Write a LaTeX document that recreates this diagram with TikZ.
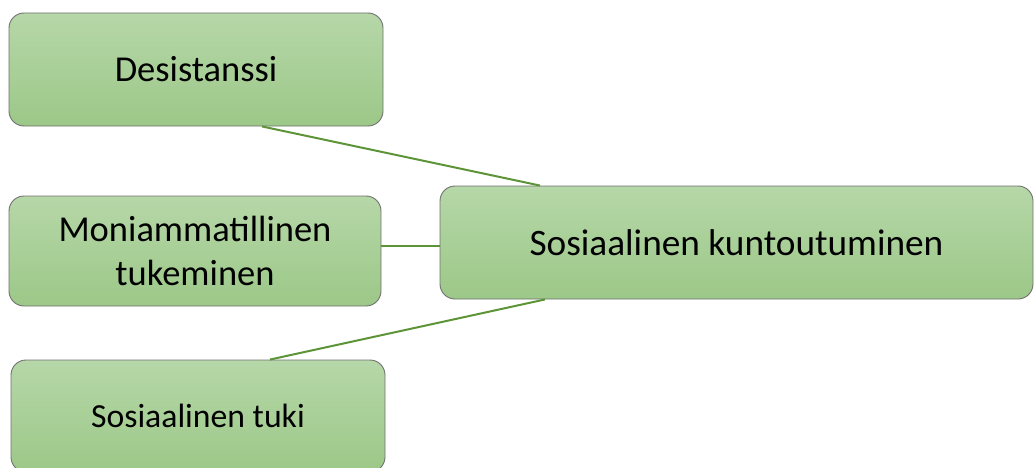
\documentclass[tikz,border=0pt]{standalone}
\usepackage{fontspec}
\setmainfont{Carlito}
\usetikzlibrary{calc}
\definecolor{boxtop}{HTML}{B6D7A8}
\definecolor{boxbot}{HTML}{9CC888}
\definecolor{boxline}{HTML}{707070}
\definecolor{linkgreen}{HTML}{5E9438}
\tikzset{
  box/.style={draw=boxline, line width=0.9pt, rounded corners=15pt,
    top color=boxtop, bottom color=boxbot, align=center, inner sep=0pt,
    font=\fontsize{36.5}{44}\selectfont},
  link/.style={draw=linkgreen, line width=2pt}
}
\begin{document}
\begin{tikzpicture}[x=1pt,y=-1pt]
\useasboundingbox (0,0) rectangle (1035,468);
\clip (0,0) rectangle (1035,468);
\node[box, minimum width=374pt, minimum height=113pt] (d) at (196,69.5) {Desistanssi};
\node[box, minimum width=372pt, minimum height=110pt] (mon) at (195,251) {Moniammatillinen\\tukeminen};
\node[box, minimum width=374pt, minimum height=112pt, font=\fontsize{33.7}{40}\selectfont] (tuki) at (198,416) {Sosiaalinen tuki};
\node[box, minimum width=593pt, minimum height=113pt, font=\fontsize{37.3}{44}\selectfont] (main) at (736.5,242.5) {Sosiaalinen kuntoutuminen};
\draw[link] ([xshift=66pt]d.south) -- ([xshift=-196.5pt]main.north);
\draw[link] ([yshift=-3pt]main.west) -- ([yshift=-3pt]main.west -| mon.east);
\draw[link] ([xshift=72pt]tuki.north) -- ([xshift=-191.5pt]main.south);
\end{tikzpicture}
\end{document}
